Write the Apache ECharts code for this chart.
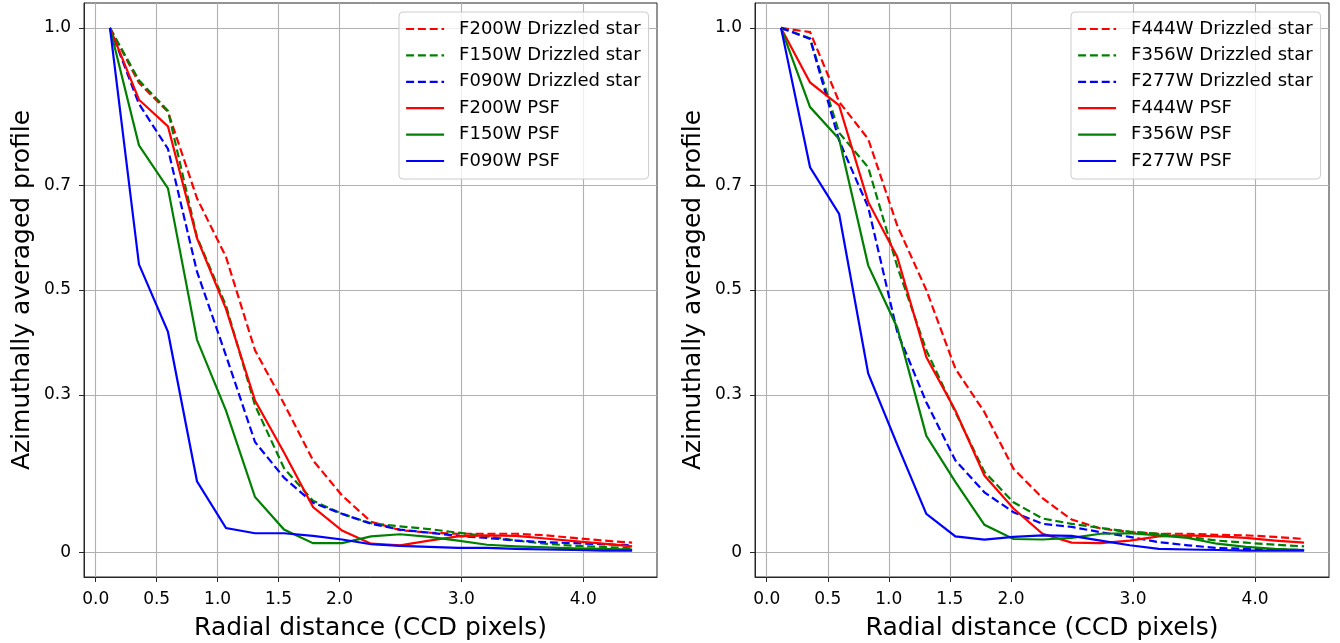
<!DOCTYPE html>
<html>
<head>
<meta charset="utf-8">
<script src="https://cdn.jsdelivr.net/npm/echarts@6/dist/echarts.min.js"></script>
<style>
  html, body { margin: 0; padding: 0; background: #fff; }
  #chart { width: 1340px; height: 643px; }
</style>
</head>
<body>
<div id="chart"></div>
<script>
// ---- Data ----
const radius = [0.117, 0.355, 0.593, 0.831, 1.069, 1.307, 1.545, 1.783, 2.021, 2.259, 2.497, 2.735, 2.973, 3.211, 3.449, 3.687, 3.925, 4.163, 4.401];

const xTicks = [0.0, 0.5, 1.0, 1.5, 2.0, 3.0, 4.0];
const yTicks = [0, 0.3, 0.5, 0.7, 1.0];

// Left panel (short wavelength)
const leftNames = ['F200W Drizzled star', 'F150W Drizzled star', 'F090W Drizzled star', 'F200W PSF', 'F150W PSF', 'F090W PSF'];
const f200wDrizzled = [1.0, 0.895, 0.84, 0.675, 0.563, 0.385, 0.283, 0.175, 0.108, 0.058, 0.042, 0.037, 0.035, 0.035, 0.035, 0.032, 0.027, 0.022, 0.018];
const f150wDrizzled = [1.0, 0.90, 0.842, 0.601, 0.47, 0.28, 0.16, 0.098, 0.073, 0.055, 0.049, 0.044, 0.037, 0.030, 0.022, 0.016, 0.012, 0.010, 0.007];
const f090wDrizzled = [1.0, 0.855, 0.769, 0.535, 0.375, 0.21, 0.142, 0.094, 0.073, 0.054, 0.043, 0.037, 0.031, 0.027, 0.022, 0.019, 0.017, 0.015, 0.013];
const f200wPSF = [1.0, 0.863, 0.812, 0.599, 0.464, 0.289, 0.19, 0.086, 0.041, 0.016, 0.013, 0.022, 0.030, 0.032, 0.031, 0.026, 0.021, 0.016, 0.011];
const f150wPSF = [1.0, 0.776, 0.694, 0.405, 0.27, 0.105, 0.043, 0.017, 0.017, 0.030, 0.034, 0.029, 0.022, 0.014, 0.011, 0.009, 0.007, 0.006, 0.005];
const f090wPSF = [1.0, 0.549, 0.42, 0.135, 0.046, 0.036, 0.036, 0.031, 0.024, 0.015, 0.012, 0.010, 0.008, 0.008, 0.006, 0.005, 0.004, 0.003, 0.003];

// Right panel (long wavelength)
const rightNames = ['F444W Drizzled star', 'F356W Drizzled star', 'F277W Drizzled star', 'F444W PSF', 'F356W PSF', 'F277W PSF'];
const f444wDrizzled = [1.0, 0.992, 0.859, 0.788, 0.623, 0.50, 0.35, 0.267, 0.159, 0.103, 0.062, 0.045, 0.038, 0.035, 0.035, 0.033, 0.032, 0.029, 0.025];
const f356wDrizzled = [1.0, 0.98, 0.80, 0.734, 0.545, 0.385, 0.267, 0.153, 0.095, 0.064, 0.054, 0.046, 0.039, 0.035, 0.029, 0.022, 0.018, 0.014, 0.011];
const f277wDrizzled = [1.0, 0.979, 0.785, 0.658, 0.42, 0.286, 0.175, 0.114, 0.076, 0.054, 0.048, 0.038, 0.029, 0.019, 0.013, 0.008, 0.006, 0.005, 0.004];
const f444wPSF = [1.0, 0.896, 0.852, 0.668, 0.563, 0.372, 0.27, 0.146, 0.083, 0.035, 0.018, 0.017, 0.022, 0.030, 0.032, 0.030, 0.027, 0.022, 0.018];
const f356wPSF = [1.0, 0.849, 0.788, 0.547, 0.428, 0.222, 0.134, 0.052, 0.025, 0.024, 0.027, 0.035, 0.036, 0.032, 0.027, 0.016, 0.010, 0.006, 0.004];
const f277wPSF = [1.0, 0.734, 0.645, 0.341, 0.205, 0.073, 0.030, 0.024, 0.029, 0.032, 0.031, 0.022, 0.013, 0.006, 0.005, 0.004, 0.003, 0.003, 0.003];

const leftValues = [f200wDrizzled, f150wDrizzled, f090wDrizzled, f200wPSF, f150wPSF, f090wPSF];
const rightValues = [f444wDrizzled, f356wDrizzled, f277wDrizzled, f444wPSF, f356wPSF, f277wPSF];

// ---- Styling ----
const FONT = 'DejaVu Sans';
const colors = ['#ff0000', '#008000', '#0000ff', '#ff0000', '#008000', '#0000ff'];
const dashed = [true, true, true, false, false, false];

function pairs(vals) { return radius.map((r, i) => [r, vals[i]]); }

function makeSeries(names, values, idx) {
  return names.map((n, i) => ({
    name: n,
    type: 'line',
    xAxisIndex: idx,
    yAxisIndex: idx,
    data: pairs(values[i]),
    symbol: 'none',
    showSymbol: false,
    silent: true,
    animation: false,
    lineStyle: { color: colors[i], width: 2.2, type: dashed[i] ? [8, 3.8] : 'solid', cap: 'butt', join: 'miter' },
    itemStyle: { color: colors[i] }
  }));
}

function xAxis(idx) {
  return {
    type: 'value', gridIndex: idx, min: -0.096, max: 4.605,
    name: 'Radial distance (CCD pixels)', nameLocation: 'middle', nameGap: 39,
    nameTextStyle: { fontFamily: FONT, fontSize: 25, color: '#000' },
    axisLine: { show: true, onZero: false, lineStyle: { color: '#262626', width: 1 } },
    axisTick: { show: true, length: 5, customValues: xTicks, lineStyle: { color: '#262626', width: 1 } },
    axisLabel: { customValues: xTicks, margin: 14, fontFamily: FONT, fontSize: 17, color: '#000',
      formatter: v => Number(v).toFixed(1) },
    splitLine: { show: true, lineStyle: { color: '#b0b0b0', width: 1.1 } }
  };
}
function yAxis(idx) {
  return {
    type: 'value', gridIndex: idx, min: -0.0475, max: 1.0475,
    name: 'Azimuthally averaged profile', nameLocation: 'middle', nameGap: 49,
    nameTextStyle: { fontFamily: FONT, fontSize: 25, color: '#000' },
    axisLine: { show: true, onZero: false, lineStyle: { color: '#262626', width: 1 } },
    axisTick: { show: true, length: 5, customValues: yTicks, lineStyle: { color: '#262626', width: 1 } },
    axisLabel: { customValues: yTicks, margin: 13, fontFamily: FONT, fontSize: 17, color: '#000',
      formatter: v => (Number(v) === 0 ? '0' : Number(v).toFixed(1)) },
    splitLine: { show: true, lineStyle: { color: '#b0b0b0', width: 1.1 } }
  };
}
function legend(names, left) {
  return {
    data: names, orient: 'vertical', left: left, top: 12,
    backgroundColor: 'rgba(255,255,255,0.8)', borderColor: '#cccccc', borderWidth: 1, borderRadius: 4,
    padding: [7, 8, 8, 6], itemWidth: 38, itemHeight: 14, itemGap: 6.4,
    textStyle: { fontFamily: FONT, fontSize: 18, color: '#000', lineHeight: 20, padding: [0, 0, 0, 10] },
    itemStyle: { opacity: 0, borderWidth: 0 },
    lineStyle: { width: 2.2, opacity: 1 },
    selectedMode: false
  };
}

const chart = echarts.init(document.getElementById('chart'), null, { renderer: 'canvas' });
chart.setOption({
  backgroundColor: '#ffffff',
  animation: false,
  grid: [
    { left: 84, top: 3, width: 573, height: 574, show: true, borderColor: '#262626', borderWidth: 1, backgroundColor: 'transparent', containLabel: false, outerBoundsMode: 'none' },
    { left: 755, top: 3, width: 574, height: 574, show: true, borderColor: '#262626', borderWidth: 1, backgroundColor: 'transparent', containLabel: false, outerBoundsMode: 'none' }
  ],
  xAxis: [xAxis(0), xAxis(1)],
  yAxis: [yAxis(0), yAxis(1)],
  legend: [legend(leftNames, 399), legend(rightNames, 1071)],
  series: makeSeries(leftNames, leftValues, 0).concat(makeSeries(rightNames, rightValues, 1))
});
</script>
</body>
</html>
